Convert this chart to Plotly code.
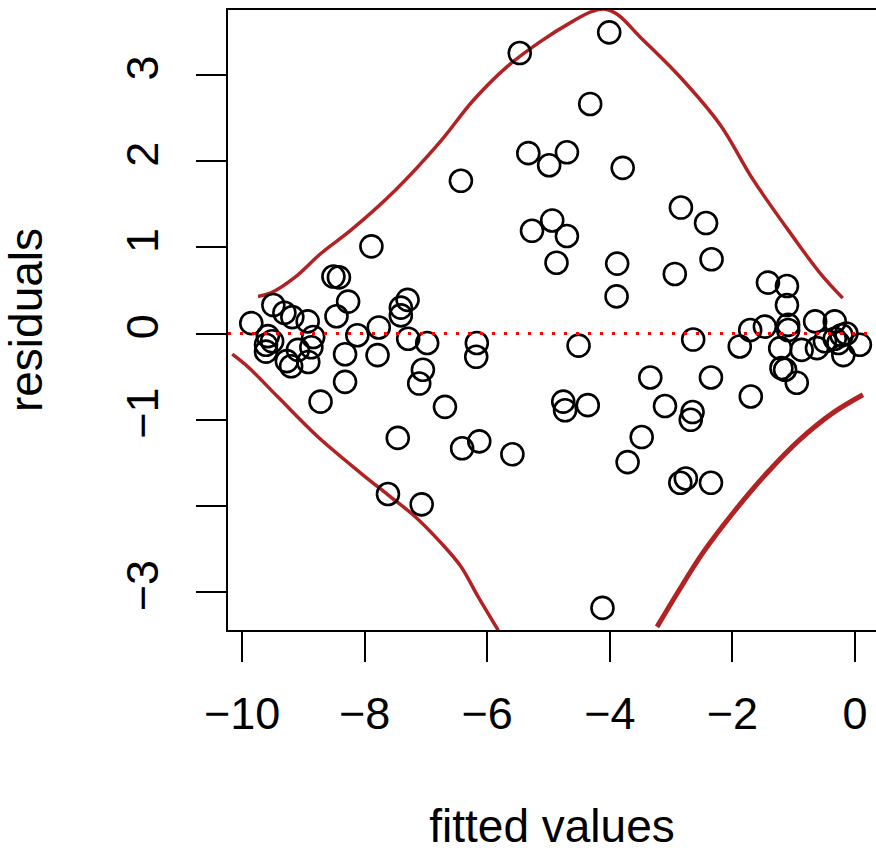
import plotly.graph_objects as go

# ---- data ----
fitted = [
    -5.47, -4.01, -4.32, -5.33, -4.99, -4.70, -3.79, -6.43, -5.27, -4.94,
    -4.70, -2.84, -4.87, -3.88, -3.89, -2.94, -2.43, -2.34, -6.17, -6.18,
    -4.51, -6.69, -3.34, -4.76, -4.73, -4.36, -3.10, -6.41, -6.13, -5.59,
    -3.48, -3.71, -2.35, -2.65, -2.68, -2.76, -2.85, -2.35, -1.70, -4.12,
    -2.64,
    -7.89, -8.51, -8.42, -8.27, -8.46, -7.30, -7.41, -7.41, -7.77, -8.12,
    -7.29, -6.98, -8.32, -7.79, -7.05, -7.11, -8.32, -8.72, -7.46, -7.62,
    -7.07,
    -9.85, -9.49, -9.31, -9.18, -8.93, -9.58, -9.51, -9.61, -9.61, -9.09,
    -8.84, -8.87, -8.92, -9.27, -9.20,
    -1.42, -1.11, -1.11, -1.09, -1.09, -1.71, -1.47, -1.88, -1.22, -0.87,
    -0.65, -0.33, -0.62, -0.49, -0.33, -0.22, -0.14, -0.27, -0.19, 0.08,
    -1.20, -1.14, -0.95,
]
residuals = [
    3.25, 3.49, 2.66, 2.09, 1.95, 2.10, 1.92, 1.77, 1.19, 1.31,
    1.13, 1.46, 0.82, 0.81, 0.43, 0.69, 1.28, 0.86, -0.11, -0.27,
    -0.14, -0.85, -0.51, -0.79, -0.89, -0.83, -0.84, -1.33, -1.25, -1.40,
    -1.20, -1.49, -0.51, -0.91, -1.00, -1.68, -1.73, -1.73, -0.73, -3.18,
    -0.07,
    1.01, 0.66, 0.65, 0.37, 0.20, 0.39, 0.30, 0.21, 0.07, -0.02,
    -0.06, -0.11, -0.24, -0.25, -0.42, -0.58, -0.56, -0.79, -1.21, -1.86,
    -1.98,
    0.12, 0.33, 0.24, 0.19, 0.14, -0.03, -0.09, -0.13, -0.21, -0.19,
    -0.04, -0.16, -0.33, -0.32, -0.38,
    0.59, 0.55, 0.33, 0.10, 0.04, 0.04, 0.08, -0.15, -0.17, -0.19,
    0.14, 0.14, -0.17, -0.09, -0.06, -0.02, 0.00, -0.11, -0.25, -0.13,
    -0.40, -0.42, -0.57,
]

upper_x = [-9.74, -9.53, -9.14, -8.71, -8.22, -7.50, -6.77, -6.23, -5.68, -5.14,
           -4.60, -4.30, -4.10, -3.88, -3.51, -2.85, -2.20, -1.66, -1.01, -0.57, -0.20]
upper_y = [0.43, 0.47, 0.65, 0.93, 1.20, 1.66, 2.22, 2.70, 3.09, 3.38,
           3.62, 3.73, 3.76, 3.70, 3.44, 2.97, 2.42, 1.78, 1.12, 0.70, 0.41]

lowerL_x = [-10.16, -9.90, -9.41, -8.76, -8.06, -7.62, -7.18, -6.75, -6.43, -6.15, -5.82]
lowerL_y = [-0.24, -0.39, -0.74, -1.20, -1.62, -1.87, -2.12, -2.43, -2.70, -3.05, -3.44]

lowerR_x = [-3.23, -2.90, -2.48, -1.99, -1.44, -0.90, -0.36, 0.13]
lowerR_y = [-3.40, -3.01, -2.54, -2.08, -1.62, -1.23, -0.92, -0.71]

x_ticks = [-10, -8, -6, -4, -2, 0]
x_ticktext = ["\u221210", "\u22128", "\u22126", "\u22124", "\u22122", "0"]
y_ticks = [-3, -2, -1, 0, 1, 2, 3]
y_ticktext = ["\u22123", "", "\u22121", "0", "1", "2", "3"]

x_range = [-10.23, 0.343]
y_range = [-3.436, 3.749]

RED = "#B22222"
FONT = "Liberation Sans, Arial, Helvetica, sans-serif"

fig = go.Figure()

fig.add_trace(go.Scatter(x=upper_x, y=upper_y, mode="lines",
                         line=dict(color=RED, width=3.5, shape="spline", smoothing=1.0),
                         hoverinfo="skip"))
fig.add_trace(go.Scatter(x=lowerL_x, y=lowerL_y, mode="lines",
                         line=dict(color=RED, width=3.5, shape="spline", smoothing=1.0),
                         hoverinfo="skip"))
fig.add_trace(go.Scatter(x=lowerR_x, y=lowerR_y, mode="lines",
                         line=dict(color=RED, width=5, shape="spline", smoothing=1.0),
                         hoverinfo="skip"))

fig.add_trace(go.Scatter(x=fitted, y=residuals, mode="markers",
                         marker=dict(symbol="circle-open", size=22, color="black",
                                     line=dict(width=2.6, color="black")),
                         cliponaxis=False))

fig.add_shape(type="line", xref="paper", x0=0, x1=1, yref="y", y0=0, y1=0,
              line=dict(color="#FF0000", width=3, dash="3px,9px"), layer="above")

fig.update_layout(
    width=876, height=852,
    margin=dict(l=228, r=0, t=10, b=222),
    plot_bgcolor="white", paper_bgcolor="white",
    showlegend=False,
    font=dict(family=FONT, size=45, color="black"),
    xaxis=dict(range=x_range, tickvals=x_ticks, ticktext=x_ticktext,
               showgrid=False, zeroline=False,
               showline=True, linecolor="black", linewidth=2, mirror=True,
               ticks="outside", ticklen=30, tickwidth=2, tickcolor="black",
               ticklabelstandoff=13,
               tickfont=dict(family=FONT, size=45, color="black"),
               title=dict(text="fitted values", standoff=76,
                          font=dict(family=FONT, size=46, color="black"))),
    yaxis=dict(range=y_range, tickvals=y_ticks, ticktext=y_ticktext,
               showgrid=False, zeroline=False,
               showline=True, linecolor="black", linewidth=2, mirror=False,
               ticks="outside", ticklen=30, tickwidth=2, tickcolor="black",
               tickangle=-90, ticklabelstandoff=20,
               tickfont=dict(family=FONT, size=45, color="black"),
               title=dict(text="residuals", standoff=62,
                          font=dict(family=FONT, size=46, color="black"))),
)

fig.write_html("out.html")
